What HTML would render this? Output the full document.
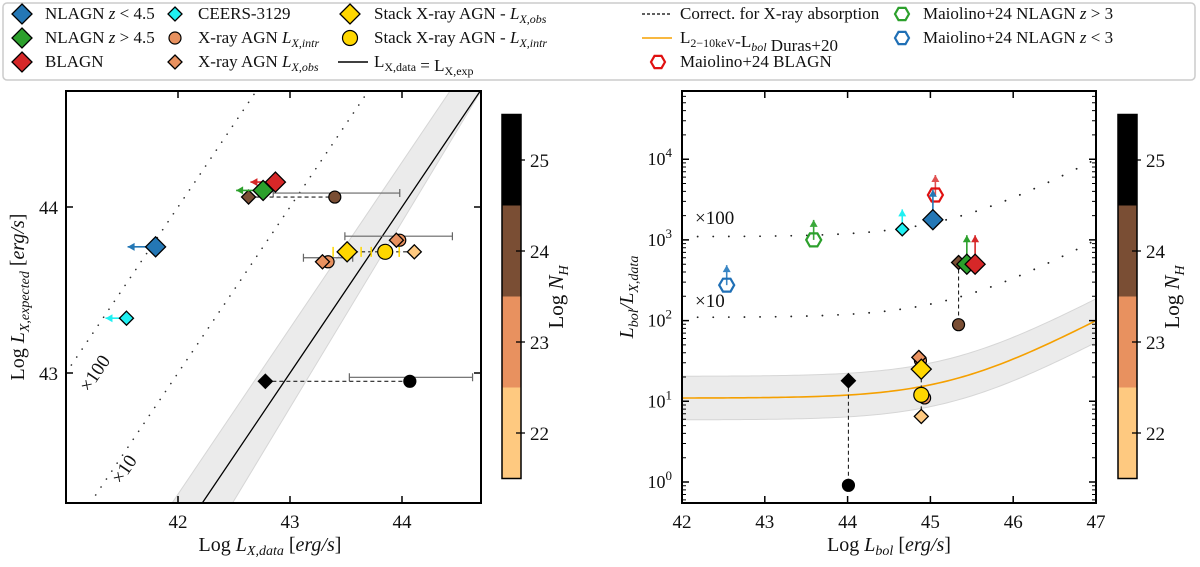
<!DOCTYPE html>
<html><head><meta charset="utf-8"><style>
html,body{margin:0;padding:0;background:#fff;width:1200px;height:567px;overflow:hidden}
svg{display:block;font-family:"Liberation Serif",serif}
</style></head><body>
<svg id="fig" width="1200" height="567" viewBox="0 0 1200 567" xmlns="http://www.w3.org/2000/svg">
<defs>
<clipPath id="clipL"><rect x="66" y="91" width="415" height="412"/></clipPath>
<clipPath id="clipR"><rect x="682" y="91" width="414" height="412"/></clipPath>
</defs>
<g id="legend">
<rect x="3" y="3" width="1192" height="77" rx="4" fill="#fff" stroke="#ccc" stroke-width="1.5"/>
</g>
<g id="left"></g>
<g id="right"></g>
<g id="cbars"></g>
</svg>
<script>
// ---- Left panel data: [logLx_data, logLx_expected]
const leftNLAGNlow=[[41.80,43.76]];
const leftCEERS=[[41.54,43.33]];
const leftNLAGNhigh=[[42.76,44.10]];
const leftBLAGN=[[42.87,44.15]];
// [x, y, logNH]
const leftXobs=[[42.63,44.06,24],[42.78,42.95,25],[43.29,43.67,23],[43.95,43.80,23],[44.11,43.73,22]];
// [x, y, logNH, errLo, errHi]
const leftXintr=[[43.40,44.06,24,42.85,43.98],[44.07,42.95,25,43.53,44.63],[43.34,43.67,23,43.12,43.56],[43.98,43.80,23,43.49,44.45]];
const leftStackObs=[[43.51,43.73]];
const leftStackIntr=[[43.85,43.73]];
const leftXTicks=[42,43,44];
const leftYTicks=[43,44];
// ---- Right panel data: [logLbol, Lbol/Lx]
const rightMaiLow=[[42.54,275]];
const rightMaiHigh=[[43.59,1000]];
const rightMaiBL=[[45.06,3600]];
const rightCEERS=[[44.66,1350]];
const rightNLAGNlow=[[45.03,1780]];
const rightNLAGNhigh=[[45.44,500]];
const rightBLAGN=[[45.54,500]];
const rightXobs=[[45.34,525,24],[44.01,18,25],[44.86,35,23],[44.89,6.5,22]];
const rightXintr=[[45.34,89,24],[44.01,0.91,25],[44.88,32,23],[44.93,11,23]];
const rightStackObs=[[44.89,25]];
const rightStackIntr=[[44.89,12]];
const rightXTicks=[42,43,44,45,46,47];
const rightYTicks=[0,1,2,3,4];
const cbTicks=[22,23,24,25];

const NS="http://www.w3.org/2000/svg";
function el(tag,attrs,parent){const e=document.createElementNS(NS,tag);for(const k in attrs)e.setAttribute(k,attrs[k]);parent.appendChild(e);return e;}
function nhColor(n){if(n>=24.5)return"#000";if(n>=23.5)return"#7a4e34";if(n>=22.5)return"#e8915f";return"#fec980";}
const BLUE="#2477b5",GREEN="#2ca02c",RED="#d62728",CYAN="#1ff0f2",YEL="#ffd700";
function diamond(g,cx,cy,r,fill,name){const p=el('polygon',{points:`${cx},${cy-r} ${cx+r},${cy} ${cx},${cy+r} ${cx-r},${cy}`,fill:fill,stroke:"#000","stroke-width":1.3},g);

return p;}
function circ(g,cx,cy,r,fill,name){const c=el('circle',{cx:cx,cy:cy,r:r,fill:fill,stroke:"#000","stroke-width":1.2},g);

return c;}
function hexa(g,cx,cy,r,col,name){let pts=[];for(let i=0;i<6;i++){const a=Math.PI/3*i;pts.push((cx+r*Math.cos(a)).toFixed(1)+","+(cy+r*Math.sin(a)).toFixed(1));}
const h=el('polygon',{points:pts.join(" "),fill:"none",stroke:col,"stroke-width":2.2},g);

return h;}
function arrow(g,x1,y1,x2,y2,col){el('line',{x1:x1,y1:y1,x2:x2,y2:y2,stroke:col,"stroke-width":1.6},g);
const dx=x2-x1,dy=y2-y1,L=Math.hypot(dx,dy),ux=dx/L,uy=dy/L,hl=7,hw=4;
const bx=x2-ux*hl,by=y2-uy*hl;
el('polygon',{points:`${x2},${y2} ${bx-uy*hw},${by+ux*hw} ${bx+uy*hw},${by-ux*hw}`,fill:col},g);}
function txt(g,x,y,s,attrs){const t=el('text',Object.assign({x:x,y:y,"font-size":16,fill:"#111"},attrs||{}),g);t.innerHTML=s;return t;}

// ---------- LEFT PANEL ----------
const L=document.getElementById('left');
const lx=v=>178+(v-42)*112, ly=v=>207-(v-44)*166;
const XMIN=41.0,XMAX=44.705,YMIN=42.217,YMAX=44.70;
const lc=el('g',{"clip-path":"url(#clipL)"},L);
{const a=YMIN,b=YMAX,w=0.27;
el('polygon',{points:`${lx(a-w)},${ly(a)} ${lx(b-w)},${ly(b)} ${Math.min(lx(b+w),481)},${ly(b)} ${lx(a+w)},${ly(a)}`,fill:"#ebebeb",stroke:"#d6d6d6","stroke-width":1},lc);
const one=el('line',{x1:lx(a),y1:ly(a),x2:lx(b),y2:ly(b),stroke:"#000","stroke-width":1.3},lc);


for(const off of [1,2]){const x0=Math.max(XMIN,YMIN-off),x1=Math.min(XMAX,YMAX-off);
const d=el('line',{x1:lx(x0),y1:ly(x0+off),x2:lx(x1),y2:ly(x1+off),stroke:"#333","stroke-width":1.6,"stroke-dasharray":"0.1 9.5","stroke-linecap":"round"},lc);

}}
txt(L,0,0,"×100",{"font-size":19,transform:"translate(89,393) rotate(-56)"});
txt(L,0,0,"×10",{"font-size":19,transform:"translate(121,485) rotate(-56)"});
leftXintr.forEach(d=>{const y=ly(d[1])-4;el('path',{d:`M${lx(d[3])},${y}H${lx(d[4])}M${lx(d[3])},${y-4}v8M${lx(d[4])},${y-4}v8`,stroke:"#666","stroke-width":1.2,fill:"none"},lc);});
leftXobs.slice(0,4).forEach((d,i)=>{const q=leftXintr[i];el('line',{x1:lx(d[0]),y1:ly(d[1]),x2:lx(q[0]),y2:ly(q[1]),stroke:"#222","stroke-width":1.1,"stroke-dasharray":"4 3"},lc);});
el('line',{x1:lx(leftStackObs[0][0]),y1:ly(leftStackObs[0][1]),x2:lx(leftXobs[4][0]),y2:ly(leftStackIntr[0][1]),stroke:"#222","stroke-width":1.1,"stroke-dasharray":"4 3"},lc);
[leftStackObs[0],leftStackIntr[0]].forEach(d=>{el('path',{d:`M${lx(d[0])-14},${ly(d[1])-5}v10M${lx(d[0])+14},${ly(d[1])-5}v10`,stroke:YEL,"stroke-width":1.5},lc);});
leftXintr.forEach(d=>circ(lc,lx(d[0]),ly(d[1]),6,nhColor(d[2]),'xray-intr-point'));
leftXobs.forEach(d=>diamond(lc,lx(d[0]),ly(d[1]),7,nhColor(d[2]),'xray-obs-point'));
leftStackIntr.forEach(d=>circ(lc,lx(d[0]),ly(d[1]),7.5,YEL,'stack-intr-point'));
leftStackObs.forEach(d=>diamond(lc,lx(d[0]),ly(d[1]),10,YEL,'stack-obs-point'));
leftNLAGNlow.forEach(d=>{arrow(lc,lx(d[0]),ly(d[1]),lx(d[0])-28,ly(d[1]),BLUE);diamond(lc,lx(d[0]),ly(d[1]),10,BLUE,'nlagn-low-z-point');});
leftCEERS.forEach(d=>{arrow(lc,lx(d[0]),ly(d[1]),lx(d[0])-21,ly(d[1]),CYAN);diamond(lc,lx(d[0]),ly(d[1]),7,CYAN,'ceers-3129-point');});
leftBLAGN.forEach(d=>{arrow(lc,lx(d[0]),ly(d[1]),lx(d[0])-25,ly(d[1]),RED);diamond(lc,lx(d[0]),ly(d[1]),10,RED,'blagn-point');});
leftNLAGNhigh.forEach(d=>{arrow(lc,lx(d[0]),ly(d[1]),lx(d[0])-27,ly(d[1]),GREEN);diamond(lc,lx(d[0]),ly(d[1]),10,GREEN,'nlagn-high-z-point');});
el('rect',{x:66,y:91,width:415,height:412,fill:"none",stroke:"#000","stroke-width":2},L);
leftXTicks.forEach(v=>{const x=lx(v);el('path',{d:`M${x},503v-7M${x},91v7`,stroke:"#000","stroke-width":1.5},L);
const t=txt(L,x,528,v,{"text-anchor":"middle","font-size":19});

});
leftYTicks.forEach(v=>{const y=ly(v);el('path',{d:`M66,${y}h7M481,${y}h-7`,stroke:"#000","stroke-width":1.5},L);
const t=txt(L,58,y+7,v,{"text-anchor":"end","font-size":19});

});
{const t=txt(L,270,551,'Log <tspan font-style="italic">L</tspan><tspan font-size="14" font-style="italic" dy="4">X,data</tspan><tspan dy="-4"> [</tspan><tspan font-style="italic">erg/s</tspan>]',{"text-anchor":"middle","font-size":20});


const u=txt(L,0,0,'Log <tspan font-style="italic">L</tspan><tspan font-size="14" font-style="italic" dy="5">X,expected</tspan><tspan dy="-5"> [</tspan><tspan font-style="italic">erg/s</tspan>]',{"text-anchor":"middle","font-size":20,transform:"translate(24,297) rotate(-90)"});

}

// ---------- RIGHT PANEL ----------
const R=document.getElementById('right');
const rx=v=>682+(v-42)*82.8, ry=v=>482-Math.log10(v)*80.7;
const rc=el('g',{"clip-path":"url(#clipR)"},R);
function Kx(lb){const l=lb-33.58;return 10.96*(1+Math.pow(l/11.93,17.79));}
{let up=[],lo=[],mid=[],d10=[],d100=[];
for(let v=42;v<=47.001;v+=0.05){const k=Kx(v);up.push(rx(v)+","+(ry(k)-0.27*80.7));lo.unshift(rx(v)+","+(ry(k)+0.27*80.7));mid.push(rx(v)+","+ry(k));d10.push(rx(v)+","+ry(10*k));d100.push(rx(v)+","+ry(100*k));}
el('polygon',{points:up.concat(lo).join(" "),fill:"#ebebeb",stroke:"#d6d6d6","stroke-width":1},rc);
const m=el('polyline',{points:mid.join(" "),fill:"none",stroke:"#f5a000","stroke-width":1.6},rc);


[d10,d100].forEach((p,i)=>{const d=el('polyline',{points:p.join(" "),fill:"none",stroke:"#222","stroke-width":1.8,"stroke-dasharray":"0.1 15.5","stroke-linecap":"round"},rc);

});}
txt(R,695,307,"×10",{"font-size":19});
txt(R,695,224,"×100",{"font-size":19});
rightXobs.forEach((d,i)=>{const q=rightXintr[i];if(i<2)el('line',{x1:rx(d[0]),y1:ry(d[1]),x2:rx(q[0]),y2:ry(q[1]),stroke:"#222","stroke-width":1.1,"stroke-dasharray":"4 3"},rc);});
el('line',{x1:rx(rightStackObs[0][0]),y1:ry(rightXobs[2][1]),x2:rx(rightStackObs[0][0]),y2:ry(rightXobs[3][1]),stroke:"#222","stroke-width":1.1,"stroke-dasharray":"4 3"},rc);
rightXintr.forEach(d=>circ(rc,rx(d[0]),ry(d[1]),6,nhColor(d[2]),'xray-intr-point'));
rightXobs.forEach(d=>diamond(rc,rx(d[0]),ry(d[1]),7,nhColor(d[2]),'xray-obs-point'));
rightStackIntr.forEach(d=>circ(rc,rx(d[0]),ry(d[1]),7.5,YEL,'stack-intr-point'));
rightStackObs.forEach(d=>diamond(rc,rx(d[0]),ry(d[1]),10,YEL,'stack-obs-point'));
function upA(g,x,y,len,col){arrow(g,x,y,x,y-len,col);}
rightMaiLow.forEach(d=>{upA(rc,rx(d[0]),ry(d[1]),20,"#3a86c4");hexa(rc,rx(d[0]),ry(d[1]),7.5,"#1f6fb5",'maiolino-nlagn-low-z-point');});
rightMaiHigh.forEach(d=>{upA(rc,rx(d[0]),ry(d[1]),20,"#3aa83a");hexa(rc,rx(d[0]),ry(d[1]),7.5,"#2ca02c",'maiolino-nlagn-high-z-point');});
rightCEERS.forEach(d=>{upA(rc,rx(d[0]),ry(d[1]),20,CYAN);diamond(rc,rx(d[0]),ry(d[1]),6.5,CYAN,'ceers-3129-point');});
rightMaiBL.forEach(d=>{upA(rc,rx(d[0]),ry(d[1]),20,"#e05050");hexa(rc,rx(d[0]),ry(d[1]),7.5,"#e01010",'maiolino-blagn-point');});
rightNLAGNlow.forEach(d=>{upA(rc,rx(d[0]),ry(d[1]),30,BLUE);diamond(rc,rx(d[0]),ry(d[1]),10,BLUE,'nlagn-low-z-point');});
rightNLAGNhigh.forEach(d=>{upA(rc,rx(d[0]),ry(d[1]),29,GREEN);diamond(rc,rx(d[0]),ry(d[1]),10,GREEN,'nlagn-high-z-point');});
rightBLAGN.forEach(d=>{upA(rc,rx(d[0]),ry(d[1]),29,RED);diamond(rc,rx(d[0]),ry(d[1]),10,RED,'blagn-point');});
el('rect',{x:682,y:91,width:414,height:412,fill:"none",stroke:"#000","stroke-width":2},R);
rightXTicks.forEach(v=>{const x=rx(v);if(v>42&&v<47)el('path',{d:`M${x},503v-7M${x},91v7`,stroke:"#000","stroke-width":1.5},R);
const t=txt(R,x,528,v,{"text-anchor":"middle","font-size":19});

});
for(let d=-1;d<=4;d++){for(let m=1;m<=9;m++){const y=ry(m*Math.pow(10,d));if(y<92||y>502)continue;const len=m==1?7:4;
el('path',{d:`M682,${y}h${len}M1096,${y}h-${len}`,stroke:"#000","stroke-width":m==1?1.5:1},R);}}
rightYTicks.forEach(v=>{const y=ry(Math.pow(10,v));
const t=txt(R,672,y+6,'10<tspan font-size="13" dy="-8">'+v+'</tspan>',{"text-anchor":"end","font-size":18});

});
{const t=txt(R,889,551,'Log <tspan font-style="italic">L</tspan><tspan font-size="14" font-style="italic" dy="4">bol</tspan><tspan dy="-4"> [</tspan><tspan font-style="italic">erg/s</tspan>]',{"text-anchor":"middle","font-size":20});


const u=txt(R,0,0,'<tspan font-style="italic">L</tspan><tspan font-size="14" font-style="italic" dy="5">bol</tspan><tspan dy="-5" font-style="italic">/L</tspan><tspan font-size="14" font-style="italic" dy="5">X,data</tspan>',{"text-anchor":"middle","font-size":20,transform:"translate(633,297) rotate(-90)"});

}

// ---------- COLORBARS ----------
const C=document.getElementById('cbars');
[[502,'left-colorbar'],[1118,'right-colorbar']].forEach(([x0,nm])=>{
const g=el('g',{},C);


const cy=v=>160+(25-v)*91;
[22,23,24,25].forEach(n=>el('rect',{x:x0,y:cy(n+0.5),width:19,height:91,fill:nhColor(n)},g));
el('rect',{x:x0,y:cy(25.5),width:19,height:364,fill:"none",stroke:"#000","stroke-width":1.5},g);
cbTicks.forEach(n=>{el('line',{x1:x0+14,x2:x0+23,y1:cy(n),y2:cy(n),stroke:"#000","stroke-width":1.3},g);
txt(g,x0+28,cy(n)+7,n,{"font-size":19});});
txt(g,0,0,'Log <tspan font-style="italic">N</tspan><tspan font-size="14" font-style="italic" dy="5">H</tspan>',{"font-size":21,"text-anchor":"middle",transform:`translate(${x0+61},297) rotate(-90)`});
});

// ---------- LEGEND ----------
const G=document.getElementById('legend');
const sub=s=>'<tspan font-size="12" font-style="italic" dy="4">'+s+'</tspan><tspan dy="-4"></tspan>';
const items=[
[22,14,'dia',BLUE,10,45,'NLAGN <tspan font-style="italic">z</tspan> &lt; 4.5'],
[22,38,'dia',GREEN,10,45,'NLAGN <tspan font-style="italic">z</tspan> &gt; 4.5'],
[22,62,'dia',RED,10,45,'BLAGN'],
[175,14,'dia',CYAN,7,198,'CEERS-3129'],
[175,38,'cir',"#e8915f",6,198,'X-ray AGN <tspan font-style="italic">L</tspan>'+sub('X,intr')],
[175,62,'dia',"#e8915f",7,198,'X-ray AGN <tspan font-style="italic">L</tspan>'+sub('X,obs')],
[350,14,'dia',YEL,10,374,'Stack X-ray AGN - <tspan font-style="italic">L</tspan>'+sub('X,obs')],
[350,38,'cir',YEL,7.5,374,'Stack X-ray AGN - <tspan font-style="italic">L</tspan>'+sub('X,intr')],
[353,62,'line',"#000",0,374,'L'+sub('X,data').replace('font-style="italic" ','')+' = L'+sub('X,exp').replace('font-style="italic" ','')],
[657,14,'dash',"#000",0,680,'Correct. for X-ray absorption'],
[657,38,'line',"#f5a000",0,680,'L'+sub('2−10keV').replace('font-style="italic" ','')+'-L'+sub('bol')+' Duras+20'],
[658,62,'hex',"#e01010",7,680,'Maiolino+24 BLAGN'],
[902,14,'hex',"#2ca02c",7,923,'Maiolino+24 NLAGN <tspan font-style="italic">z</tspan> &gt; 3'],
[902,38,'hex',"#1f6fb5",7,923,'Maiolino+24 NLAGN <tspan font-style="italic">z</tspan> &lt; 3']];
items.forEach(it=>{const [x,y,t,c,r,tx,s]=it;
if(t=='dia')diamond(G,x,y,r,c,'legend-marker');
else if(t=='cir')circ(G,x,y,r,c,'legend-marker');
else if(t=='hex')hexa(G,x,y,r,c,'legend-marker');
else if(t=='line')el('line',{x1:x-15,x2:x+15,y1:y,y2:y,stroke:c,"stroke-width":1.6},G);
else el('line',{x1:x-15,x2:x+15,y1:y,y2:y,stroke:c,"stroke-width":1.2,"stroke-dasharray":"3 2"},G);
const e=txt(G,tx,y+5,s,{"font-size":17});

});
</script>
</body></html>
